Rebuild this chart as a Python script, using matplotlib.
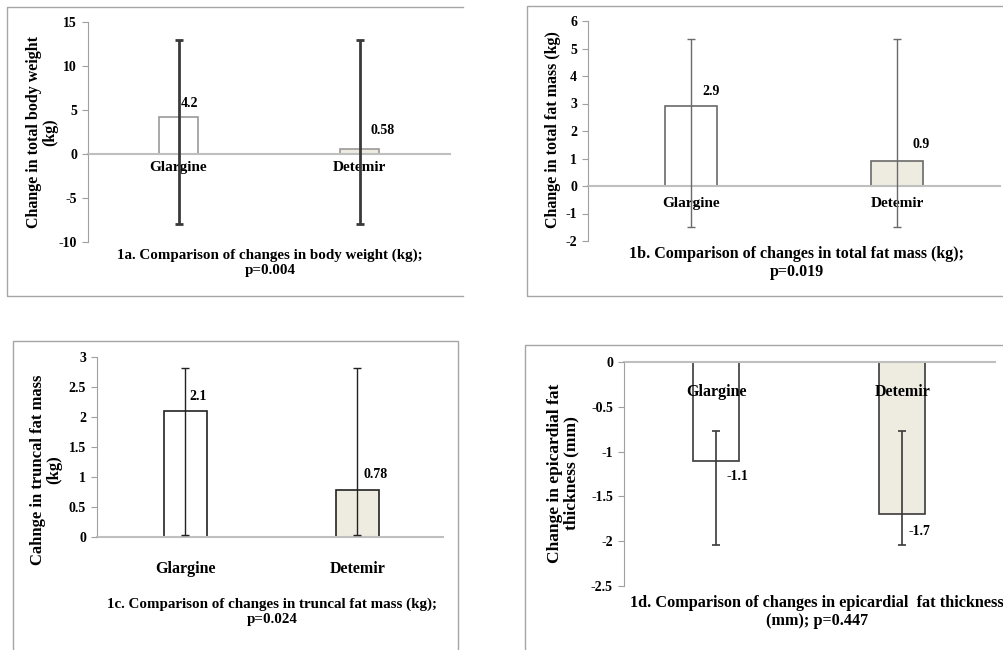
import matplotlib
matplotlib.use("Agg")
import matplotlib.pyplot as plt
from matplotlib.lines import Line2D

plt.rcParams['font.family'] = ['Liberation Serif', 'DejaVu Serif']
plt.rcParams['font.weight'] = 'bold'

W, H = 1004, 650

categories = ["Glargine", "Detemir"]

# Panel data
a_vals = [4.2, 0.58]
a_err_hi = [12.9, 12.9]
a_err_lo = [-8.0, -8.0]
a_labels = ["4.2", "0.58"]

b_vals = [2.9, 0.9]
b_err_hi = [5.33, 5.33]
b_err_lo = [-1.5, -1.5]
b_labels = ["2.9", "0.9"]

c_vals = [2.1, 0.78]
c_err_hi = [2.82, 2.82]
c_err_lo = [0.04, 0.04]
c_labels = ["2.1", "0.78"]

d_vals = [-1.1, -1.7]
d_err_hi = [-0.77, -0.77]
d_err_lo = [-2.04, -2.04]
d_labels = ["-1.1", "-1.7"]

a_yticks = [-10, -5, 0, 5, 10, 15]
b_yticks = [-2, -1, 0, 1, 2, 3, 4, 5, 6]
c_yticks = [0, 0.5, 1, 1.5, 2, 2.5, 3]
c_ytick_labels = ["0", "0.5", "1", "1.5", "2", "2.5", "3"]
d_yticks = [-2.5, -2, -1.5, -1, -0.5, 0]
d_ytick_labels = ["-2.5", "-2", "-1.5", "-1", "-0.5", "0"]

fills = ["white", "#EEECE1"]

fig = plt.figure(figsize=(W / 100, H / 100), dpi=100)


def px_axes(x0, y0, x1, y1):
    return fig.add_axes([x0 / W, 1 - y1 / H, (x1 - x0) / W, (y1 - y0) / H])


def border(points, color="#A6A6A6"):
    xs = [p[0] / W for p in points]
    ys = [1 - p[1] / H for p in points]
    fig.add_artist(Line2D(xs, ys, color=color, lw=1.0, transform=fig.transFigure))


def panel(ax, xpos, vals, hi, lo, labels, ylim, yticks, yticklabels, edge, ecol, elw,
          barw, pad, label_offsets, ylabel, ylabel_size, ylabel_x, title, title_xy,
          title_size, cat_size):
    ax.set_xlim(0, 1)
    ax.set_ylim(*ylim)
    ax.set_axisbelow(False)
    ax.bar(xpos, vals, width=barw, color=fills, edgecolor=edge, linewidth=1.2, zorder=2)
    yerr = [[v - l for v, l in zip(vals, lo)], [h - v for v, h in zip(vals, hi)]]
    ax.errorbar(xpos, vals, yerr=yerr, fmt='none', ecolor=ecol, elinewidth=elw,
                capsize=3, capthick=elw, zorder=5)
    for x, v, t, off in zip(xpos, vals, labels, label_offsets):
        ax.annotate(t, (x, v), xytext=off, textcoords='offset pixels',
                    ha='center', va='center', fontsize=10, fontweight='bold', zorder=4)
    for s in ['top', 'right']:
        ax.spines[s].set_visible(False)
    ax.spines['left'].set_color('#A0A0A0')
    ax.spines['bottom'].set_position(('data', 0))
    ax.spines['bottom'].set_color('#BFBFBF')
    ax.spines['bottom'].set_linewidth(1.5)
    ax.set_yticks(yticks)
    ax.set_yticklabels(yticklabels)
    ax.tick_params(axis='y', length=4, color='#A0A0A0', labelsize=10, pad=4)
    ax.set_xticks(xpos)
    ax.set_xticklabels(categories)
    ax.tick_params(axis='x', length=0, pad=pad, labelsize=cat_size)
    for t in ax.get_xticklabels() + ax.get_yticklabels():
        t.set_fontweight('bold')
    ax.patch.set_alpha(0)
    fig.text(ylabel_x / W, ylabel[1], ylabel[0], rotation=90, ha='center', va='center',
             fontsize=ylabel_size, fontweight='bold', linespacing=1.0)
    fig.text(title_xy[0] / W, 1 - title_xy[1] / H, title, ha='center', va='center',
             fontsize=title_size, fontweight='bold', linespacing=1.2)


# Panel borders
border([(463, 7), (7, 7), (7, 296), (463, 296)])
border([(1004, 6), (527, 6), (527, 296), (1004, 296)])
border([(13, 650), (13, 341), (458, 341), (458, 650)])
border([(525, 650), (525, 345), (1004, 345)])

# Panel a
axa = px_axes(88, 22, 450, 242)
panel(axa, [0.25, 0.75], a_vals, a_err_hi, a_err_lo, a_labels, (-10, 15), a_yticks,
      [str(t) for t in a_yticks], '#9A9A9A', '#3A3A3A', 2.0, 0.11, 5,
      [(11, 14), (23, 18)], ("Change in total body weight\n(kg)", 1 - 132 / H), 11.5, 42,
      "1a. Comparison of changes in body weight (kg);\np=0.004", (270, 263), 10.8, 11)

# Panel b
axb = px_axes(588, 21, 1000, 241)
panel(axb, [0.25, 0.75], b_vals, b_err_hi, b_err_lo, b_labels, (-2, 6), b_yticks,
      [str(t) for t in b_yticks], '#6A6A6A', '#6A6A6A', 1.0, 0.125, 8,
      [(20, 15), (24, 17)], ("Change in total fat mass (kg)", 1 - 130 / H), 11.5, 553,
      "1b. Comparison of changes in total fat mass (kg);\np=0.019", (797, 263), 11.5, 11)

# Panel c
axc = px_axes(97, 357, 443, 537)
panel(axc, [0.255, 0.752], c_vals, c_err_hi, c_err_lo, c_labels, (0, 3), c_yticks,
      c_ytick_labels, '#222222', '#222222', 1.0, 0.124, 17,
      [(13, 15), (18, 16)], ("Cahnge in truncal fat mass\n(kg)", 1 - 470 / H), 12, 46,
      "1c. Comparison of changes in truncal fat mass (kg);\np=0.024", (272, 612), 10.8, 11.5)

# Panel d
axd = px_axes(624, 362, 995, 586)
panel(axd, [0.248, 0.75], d_vals, d_err_hi, d_err_lo, d_labels, (-2.5, 0), d_yticks,
      d_ytick_labels, '#3A3A3A', '#3A3A3A', 1.2, 0.124, 16,
      [(21, -16), (17, -17)], ("Change in epicardial fat\nthickness (mm)", 1 - 473 / H), 12.5, 563,
      "1d. Comparison of changes in epicardial  fat thickness\n(mm); p=0.447", (817, 612), 11.7, 11.5)

fig.savefig("out.png", dpi=100)
